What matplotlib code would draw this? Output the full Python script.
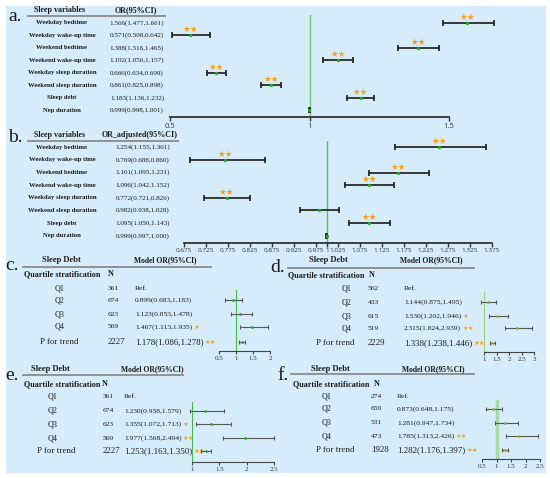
import matplotlib.pyplot as plt
from matplotlib.patches import Rectangle

# ------------------------------------------------------------------
# Data
# ------------------------------------------------------------------
sleep_vars = ["Weekday bedtime", "Weekday wake-up time", "Weekend bedtime",
              "Weekend wake-up time", "Weekday sleep duration",
              "Weekend sleep duration", "Sleep debt", "Nep duration"]

# a. crude OR
or_a = [1.566, 0.571, 1.388, 1.102, 0.666, 0.861, 1.183, 0.999]
lo_a = [1.477, 0.508, 1.316, 1.050, 0.634, 0.825, 1.136, 0.998]
hi_a = [1.661, 0.642, 1.465, 1.157, 0.699, 0.898, 1.232, 1.001]
stars_a = [2, 2, 2, 2, 2, 2, 2, 0]
ticks_a = [0.5, 1, 1.5]

# b. adjusted OR
or_b = [1.254, 0.769, 1.161, 1.096, 0.772, 0.982, 1.095, 0.999]
lo_b = [1.155, 0.688, 1.095, 1.042, 0.721, 0.938, 1.050, 0.997]
hi_b = [1.361, 0.860, 1.231, 1.152, 0.826, 1.028, 1.143, 1.000]
stars_b = [2, 2, 2, 2, 2, 0, 2, 0]
ticks_b = [0.675, 0.725, 0.775, 0.825, 0.875, 0.925, 0.975, 1, 1.025,
           1.075, 1.125, 1.175, 1.225, 1.275, 1.325, 1.375]

# c.-f. sleep debt quartiles (Q1 = reference, last entry = P for trend)
quart_rows = ["Q1", "Q2", "Q3", "Q4", "P for trend"]

n_c = [361, 674, 623, 569, 2227]
or_c = [None, 0.899, 1.123, 1.467, 1.178]
lo_c = [None, 0.683, 0.853, 1.113, 1.086]
hi_c = [None, 1.183, 1.478, 1.935, 1.278]
stars_c = [0, 0, 0, 1, 2]
ticks_c = [0.5, 1, 1.5, 2]

n_d = [562, 433, 615, 519, 2229]
or_d = [None, 1.144, 1.530, 2.315, 1.338]
lo_d = [None, 0.875, 1.202, 1.824, 1.238]
hi_d = [None, 1.495, 1.946, 2.939, 1.446]
stars_d = [0, 0, 1, 2, 2]
ticks_d = [1, 1.5, 2, 2.5, 3]

n_e = [361, 674, 623, 569, 2227]
or_e = [None, 1.230, 1.355, 1.977, 1.253]
lo_e = [None, 0.958, 1.072, 1.568, 1.163]
hi_e = [None, 1.579, 1.713, 2.494, 1.350]
stars_e = [0, 0, 1, 2, 2]
ticks_e = [1, 1.5, 2, 2.5]

n_f = [274, 650, 531, 473, 1928]
or_f = [None, 0.873, 1.281, 1.785, 1.282]
lo_f = [None, 0.648, 0.947, 1.313, 1.176]
hi_f = [None, 1.175, 1.734, 2.426, 1.397]
stars_f = [0, 0, 0, 2, 2]
ticks_f = [0.5, 1, 1.5, 2, 2.5]

# ------------------------------------------------------------------
# Styles
# ------------------------------------------------------------------
W, H = 550, 478
SERIF = "Liberation Serif"
SANS = "Open Sans"
STARF = ["DejaVu Sans"]
BLUE = "#d6ecfb"
ORANGE = "#f5a21e"
GRAY = "#8a8a8a"

fig = plt.figure(figsize=(W / 100, H / 100), dpi=100)
bg = fig.add_axes([0, 0, 1, 1])
bg.set_xlim(0, W)
bg.set_ylim(H, 0)
bg.axis("off")
bg.add_patch(Rectangle((6, 6), 539, 466, color=BLUE, zorder=0))


def T(x, y, s, size, ha="center", weight="normal", **kw):
    return bg.text(x, y, s, ha=ha, va="center", fontsize=size,
                   family=SERIF, weight=weight, color="#1a1a1a", **kw)


def forest_axes(x0, x1, y0, y1, xlim):
    """axes whose x = OR scale, y = pixel rows (top y0, axis line y1)"""
    ax = fig.add_axes([x0 / W, 1 - y1 / H, (x1 - x0) / W, (y1 - y0) / H])
    ax.set_xlim(*xlim)
    ax.set_ylim(y1, y0)
    ax.patch.set_visible(False)
    for s in ("top", "left", "right"):
        ax.spines[s].set_visible(False)
    ax.set_yticks([])
    return ax


def ci(ax, o, lo, hi, y, col, pcol, lw, cap, ms):
    ax.plot([lo, hi], [y, y], color=col, lw=lw, clip_on=False, zorder=3)
    ax.plot([lo, hi], [y, y], ls="none", marker="|", ms=cap, mew=lw,
            color=col, clip_on=False, zorder=3)
    ax.plot([o], [y], ls="none", marker="o", ms=ms, color=pcol, mew=0,
            clip_on=False, zorder=4)


# ------------------------------------------------------------------
# Panels a. and b.
# ------------------------------------------------------------------
def top_panel(letter, ly, hdr_y, hdr2, hdr2_x, ul_x1, rows_y, ors, los, his,
              stars, ticks, px, axis_y, vtop, lab_x, val_x, tsize, vcol):
    T(15, ly, letter, 14)
    T(60, hdr_y, "Sleep variables", 5.8, weight="bold")
    T(hdr2_x, hdr_y, hdr2, 5.8, weight="bold")
    bg.plot([28, ul_x1], [hdr_y + 6, hdr_y + 6], color=GRAY, lw=1.3)
    for y, name, o, lo, hi in zip(rows_y, sleep_vars, ors, los, his):
        T(lab_x, y, name, 4.8, weight="bold")
        T(val_x, y, f"{o:.3f}({lo:.3f},{hi:.3f})", 5.1)

    ax = forest_axes(px[0], px[1], vtop, axis_y, (ticks[0], ticks[-1]))
    ax.axvline(1, color=vcol, lw=1.0, zorder=1)
    for y, o, lo, hi, st in zip(rows_y, ors, los, his, stars):
        ci(ax, o, lo, hi, y, "#2a2a2a", "#1fae1f", 1.3, 4, 2.4)
        if st:
            ax.text(o, y - 5.5, "★" * st, ha="center", va="center",
                    fontsize=6.2, color=ORANGE, family=STARF, zorder=5)
    ax.spines["bottom"].set_color("#333333")
    ax.spines["bottom"].set_linewidth(1.3)
    ax.set_xticks(ticks)
    ax.set_xticklabels([f"{t:g}" for t in ticks], family=SANS,
                       fontsize=tsize, color="#333333")
    ax.tick_params(axis="x", direction="out", length=3, width=1,
                   color="#333333", pad=1)
    return ax


rows_a = [22.7 + 12.5 * i for i in range(8)]
top_panel("a.", 16, 10, "OR(95%CI)", 136, 165, rows_a, or_a, lo_a, hi_a,
          stars_a, ticks_a, (170, 449), 117.3, 15, 62, 137, 5.5, "#6cc86c")

rows_b = [147.3 + 12.63 * i for i in range(8)]
top_panel("b.", 137, 135, "OR_adjusted(95%CI)", 140, 178, rows_b, or_b,
          lo_b, hi_b, stars_b, ticks_b, (184, 492), 242.7, 141, 62, 143,
          4.6, "#5cbf5c")

# ------------------------------------------------------------------
# Panels c. - f.
# ------------------------------------------------------------------
def quart_panel(letter, lxy, hdr_y, sd_x, mo_x, ul, q_y, q_x, nh_x, qlab_x,
                n_x, or_x, p_x, rows_y, ns, ors, los, his, stars, ticks, px,
                vtop, axis_y, vcol, vlw, pcol):
    T(lxy[0], lxy[1], letter, 14)
    T(sd_x, hdr_y, "Sleep Debt", 6.1, weight="bold")
    T(mo_x, hdr_y, "Model OR(95%CI)", 5.5, weight="bold")
    bg.plot([ul[0], ul[1]], [ul[2], ul[2]], color=GRAY, lw=1.3)
    T(q_x, q_y, "Quartile stratification", 5.9, weight="bold")
    T(nh_x, q_y, "N", 5.9, ha="left", weight="bold")

    ax = forest_axes(px[0], px[1], vtop, axis_y, (ticks[0], ticks[-1]))
    ax.axvline(1, color=vcol, lw=vlw, zorder=1)

    for i, (lab, y) in enumerate(zip(quart_rows, rows_y)):
        trend = i == len(quart_rows) - 1
        big = 6.4 if trend else 5.4
        T(p_x if trend else qlab_x, y, lab, 6.4 if trend else 5.8)
        T(n_x, y, str(ns[i]), big, ha="left")
        if ors[i] is None:
            T(or_x, y, "Ref.", 5.4, ha="left")
            continue
        t = T(or_x, y, f"{ors[i]:.3f}({los[i]:.3f},{his[i]:.3f})", big,
              ha="left")
        if stars[i]:
            bg.annotate("★" * stars[i], xy=(1, 0.5), xycoords=t,
                        xytext=(1, 0), textcoords="offset points",
                        ha="left", va="center", fontsize=4.6,
                        color=ORANGE, family=STARF)
        ci(ax, ors[i], los[i], his[i], y, "#555555", pcol, 0.8, 3, 2.0)

    ax.spines["bottom"].set_color("#444444")
    ax.spines["bottom"].set_linewidth(0.8)
    ax.set_xticks(ticks)
    ax.set_xticklabels([f"{t:g}" for t in ticks], family=SERIF,
                       fontsize=5, color="#333333")
    ax.tick_params(axis="x", direction="out", length=2.5, width=0.8,
                   color="#444444", pad=1)
    return ax


quart_panel("c.", (12, 266), 260, 61, 165, (23, 211, 267), 274, 62, 108,
            60, 108, 135, 59.5, [288, 300, 314, 327, 342], n_c, or_c, lo_c,
            hi_c, stars_c, ticks_c, (219, 270), 290, 351, "#4cb84c", 0.8,
            "#2aa82a")

quart_panel("d.", (278, 268), 260, 328, 431, (288, 474, 268), 275, 326, 369,
            347, 368, 404, 335, [288, 302, 316, 328, 343], n_d, or_d, lo_d,
            hi_d, stars_d, ticks_d, (484, 534), 292, 352, "#9ccc7c", 0.8,
            "#9aa52a")

quart_panel("e.", (12, 375), 369, 50, 152, (23, 183, 375), 384, 62, 102,
            53, 103, 124, 56.5, [397, 411, 424, 438, 451], n_e, or_e, lo_e,
            hi_e, stars_e, ticks_e, (192, 274), 402, 462, "#4cb84c", 0.8,
            "#2aa82a")

quart_panel("f.", (283, 376), 369, 330, 433, (291, 474, 374), 384, 331, 374,
            327, 371, 397, 335, [396, 409, 423, 436, 450], n_f, or_f, lo_f,
            hi_f, stars_f, ticks_f, (482, 540), 400, 459, "#a8dca0", 2.5,
            "#9aa52a")

fig.savefig("out.png", dpi=100)
